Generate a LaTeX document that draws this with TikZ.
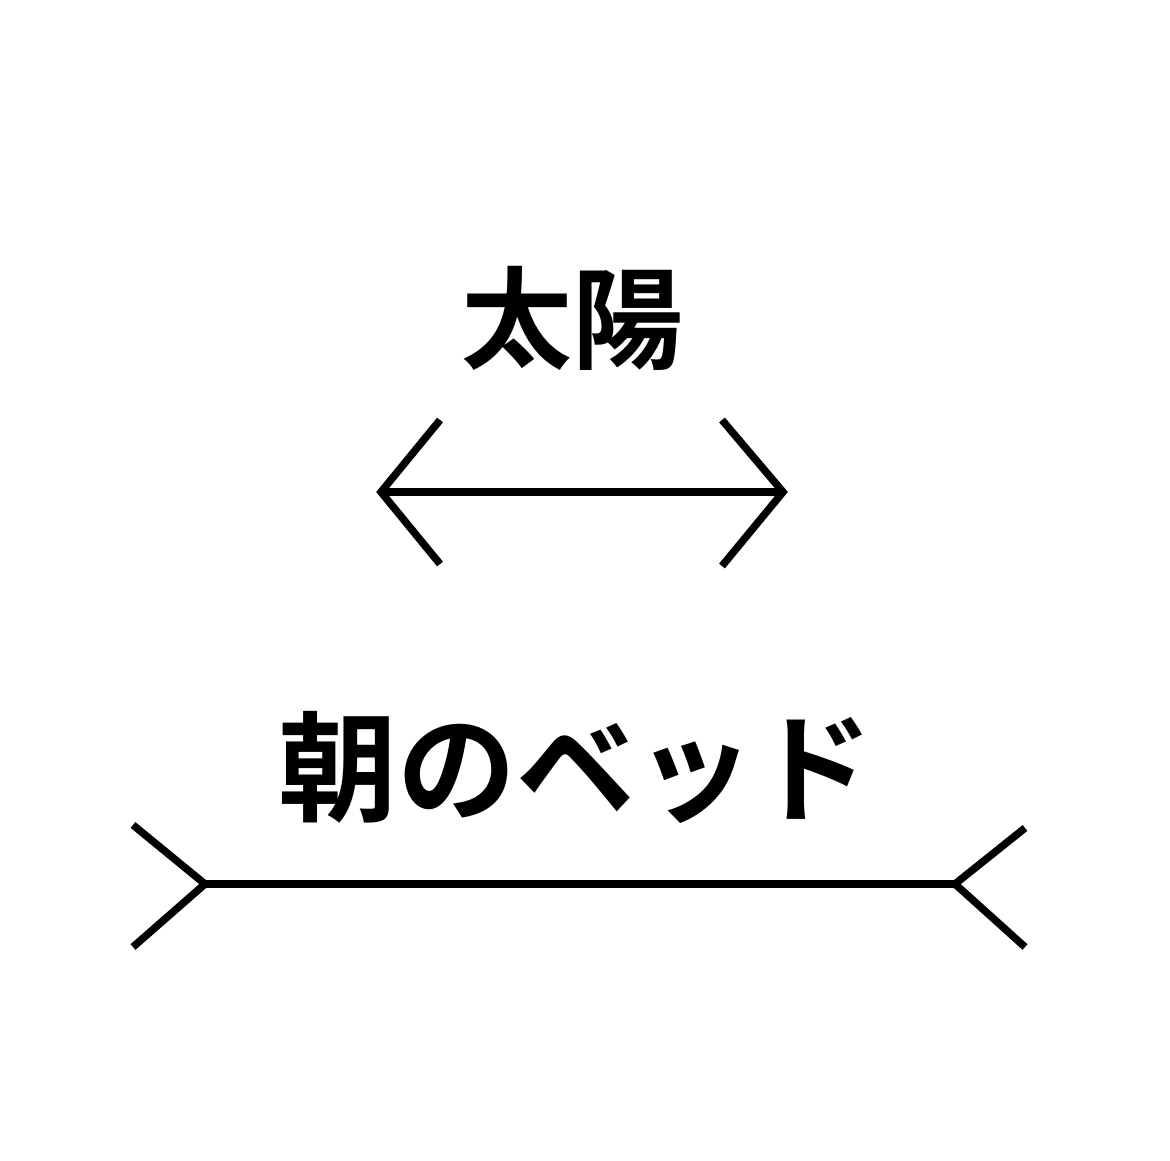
\documentclass[tikz,border=0pt]{standalone}
\usepackage{fontspec}
\newfontfamily\jp{Noto Sans CJK JP Bold}
\begin{document}
\begin{tikzpicture}[x=1pt,y=-1pt,
  fin/.style={line width=7.5pt,line cap=butt,line join=miter},
  label/.style={font=\jp,inner sep=0pt,anchor=center}]
\useasboundingbox[fill=white] (0,0) rectangle (1170,1161);
\node[label,font=\jp\fontsize{111}{111}\selectfont] (sun) at (572,318) {太陽};
\node[label,font=\jp\fontsize{119}{119}\selectfont] (bed) at (576,767) {朝のベッド};
% top: arrowheads pointing outward
\coordinate (a1) at (381,492);
\coordinate (a2) at (783,492);
\draw[fin] (a1) -- (a2);
\draw[fin] (440,420) -- (a1) -- (440,564);
\draw[fin] (722,420) -- (a2) -- (722,566);
% bottom: fins pointing outward
\coordinate (b1) at (205,884);
\coordinate (b2) at (955,884);
\draw[fin] (b1) -- (b2);
\draw[fin] (133,825) -- (b1) -- (133,947);
\draw[fin] (1025,828) -- (b2) -- (1025,947);
\end{tikzpicture}
\end{document}
